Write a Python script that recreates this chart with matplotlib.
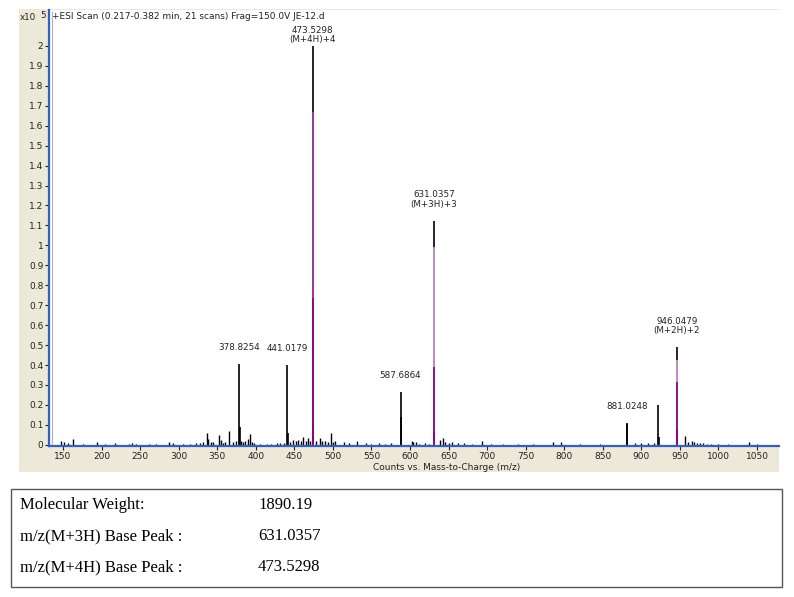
import matplotlib
matplotlib.use("Agg")
import matplotlib.pyplot as plt
from matplotlib.patches import Rectangle
from matplotlib.lines import Line2D

# labelled peaks (m/z, counts x10^5)
peak_mz = [378.8254, 441.0179, 473.5298, 587.6864, 631.0357, 881.0248, 922.05, 946.0479]
peak_h = [0.406, 0.400, 2.000, 0.266, 1.123, 0.110, 0.200, 0.490]
peak_lbl = ["378.8254", "441.0179", "473.5298\n(M+4H)+4", "587.6864",
            "631.0357\n(M+3H)+3", "881.0248", "", "946.0479\n(M+2H)+2"]

# isotope peaks drawn in black next to the labelled ones
iso_mz = [379.08, 441.27, 587.94, 881.27, 922.55]
iso_h = [0.09, 0.06, 0.140, 0.105, 0.040]

# isotope overlay (magenta shades)
ovl_mz = [473.5298, 473.78, 474.03, 631.0357, 631.0357, 631.37, 946.0479, 946.0479, 946.55]
ovl_h = [1.67, 0.737, 0.10, 0.99, 0.39, 0.065, 0.426, 0.316, 0.075]
ovl_c = ["#b040b0", "#8b008b", "#8b008b", "#dca0dc", "#8b008b", "#8b008b",
         "#dca0dc", "#8b008b", "#8b008b"]

# small background peaks
minor_mz = [147, 151, 156, 162.5, 176, 193.5, 205, 217, 235, 240, 245, 262, 270,
            287.5, 292, 305, 315, 322, 328, 332, 336.3, 338.2, 342, 345, 352.7,
            354.5, 358, 360, 364.8, 370, 374, 380.5, 384, 386.5, 390, 392.5, 395,
            398, 405, 415, 420, 428, 432, 436, 444, 448.7, 452, 455, 458, 461.5,
            465, 468, 470.5, 478, 483, 486, 489.8, 493, 497, 500, 503, 515, 521,
            531, 543, 550, 560, 568, 575, 602, 604, 608, 612, 620, 625, 639, 643,
            646, 650, 655, 662, 670, 680, 693, 705, 720, 740, 759.5, 785, 795.5,
            820, 846, 891.8, 900, 908, 916, 956.7, 960, 965.4, 968, 972, 976, 980,
            985, 990, 1000, 1012, 1039, 1050]
minor_h = [0.020, 0.012, 0.008, 0.030, 0.006, 0.015, 0.005, 0.010, 0.006, 0.007,
           0.005, 0.005, 0.006, 0.015, 0.008, 0.005, 0.006, 0.008, 0.010, 0.012,
           0.058, 0.030, 0.012, 0.015, 0.050, 0.025, 0.010, 0.015, 0.067, 0.012,
           0.018, 0.020, 0.015, 0.020, 0.030, 0.055, 0.015, 0.010, 0.006, 0.005,
           0.006, 0.008, 0.007, 0.010, 0.015, 0.025, 0.018, 0.025, 0.020, 0.040,
           0.020, 0.035, 0.020, 0.018, 0.033, 0.020, 0.020, 0.012, 0.058, 0.015,
           0.020, 0.015, 0.008, 0.020, 0.010, 0.006, 0.008, 0.006, 0.007, 0.020,
           0.012, 0.015, 0.006, 0.008, 0.006, 0.025, 0.033, 0.012, 0.010, 0.012,
           0.008, 0.010, 0.006, 0.020, 0.006, 0.005, 0.004, 0.005, 0.015, 0.015,
           0.004, 0.005, 0.010, 0.008, 0.010, 0.008, 0.042, 0.015, 0.020, 0.012,
           0.010, 0.010, 0.008, 0.006, 0.006, 0.005, 0.004, 0.012, 0.004]

yticks = [i / 10 for i in range(21)]
xticks = list(range(150, 1051, 50))

info_keys = ["Molecular Weight:", "m/z(M+3H) Base Peak :", "m/z(M+4H) Base Peak :"]
info_vals = ["1890.19", "631.0357", "473.5298"]

W, H = 794, 597
fig = plt.figure(figsize=(W / 100, H / 100), dpi=100)
fig.patch.set_facecolor("white")

# beige panel behind the chart
fig.add_artist(Rectangle((19 / W, 1 - 472 / H), 760 / W, 463 / H,
                         transform=fig.transFigure, facecolor="#ECE9D8",
                         edgecolor="none", zorder=0))

ax = fig.add_axes([49 / W, 1 - 446 / H, 730 / W, 436 / H])
ax.set_facecolor("white")
ax.set_zorder(1)

ax.vlines(minor_mz, 0, minor_h, color="black", lw=1)
ax.vlines(iso_mz, 0, iso_h, color="black", lw=1.2)
ax.vlines(peak_mz, 0, peak_h, color="black", lw=1.2)
for m, h, c in zip(ovl_mz, ovl_h, ovl_c):
    ax.vlines(m, 0, h, color=c, lw=1.2)

for m, h, t in zip(peak_mz, peak_h, peak_lbl):
    if not t:
        continue
    off = 2 if m == 473.5298 else 12
    ax.annotate(t, (m, h), xytext=(0, off), textcoords="offset pixels",
                ha="center", va="bottom", fontsize=6.3, linespacing=1.05,
                color="#222222", annotation_clip=False)

ax.set_xlim(131.8, 1078.5)
ax.set_ylim(-0.006, 2.18)
ax.set_yticks(yticks)
ax.set_yticklabels(["%g" % v for v in yticks])
ax.set_xticks(xticks)
ax.tick_params(axis="both", labelsize=6.5, length=3, width=0.8, pad=1,
               colors="#222222", direction="out")

for s in ["top", "right"]:
    ax.spines[s].set_visible(False)
for s in ["left", "bottom"]:
    ax.spines[s].set_color("#2f5fc8")
    ax.spines[s].set_linewidth(1.6)

# thin grey line next to the y axis
fig.add_artist(Line2D([51.5 / W, 51.5 / W], [1 - 444 / H, 1 - 12 / H],
                      transform=fig.transFigure, color="#b0b0b0", lw=0.8, zorder=2))

ax.text(0.004, 0.995, "+ESI Scan (0.217-0.382 min, 21 scans) Frag=150.0V JE-12.d",
        transform=ax.transAxes, ha="left", va="top", fontsize=6.5, color="#222222")
fig.text(20 / W, 1 - 18 / H, "x10", fontsize=6.3, va="center", ha="left", color="#222222")
fig.text(40 / W, 1 - 15 / H, "5", fontsize=6.3, va="center", ha="left", color="#222222")
fig.text(447 / W, 1 - 467 / H, "Counts vs. Mass-to-Charge (m/z)", fontsize=6.5,
         ha="center", va="center", color="#222222")

# info box
fig.add_artist(Rectangle((11 / W, 1 - 587 / H), 771 / W, 98 / H,
                         transform=fig.transFigure, facecolor="white",
                         edgecolor="#555555", lw=1.0))
for i, (k, v) in enumerate(zip(info_keys, info_vals)):
    y = 1 - (505 + 31 * i) / H
    fig.text(20 / W, y, k, family="Liberation Serif", fontsize=12, va="center")
    fig.text(258 / W, y, v, family="Liberation Serif", fontsize=12, va="center")

fig.savefig("out.png", dpi=100)
